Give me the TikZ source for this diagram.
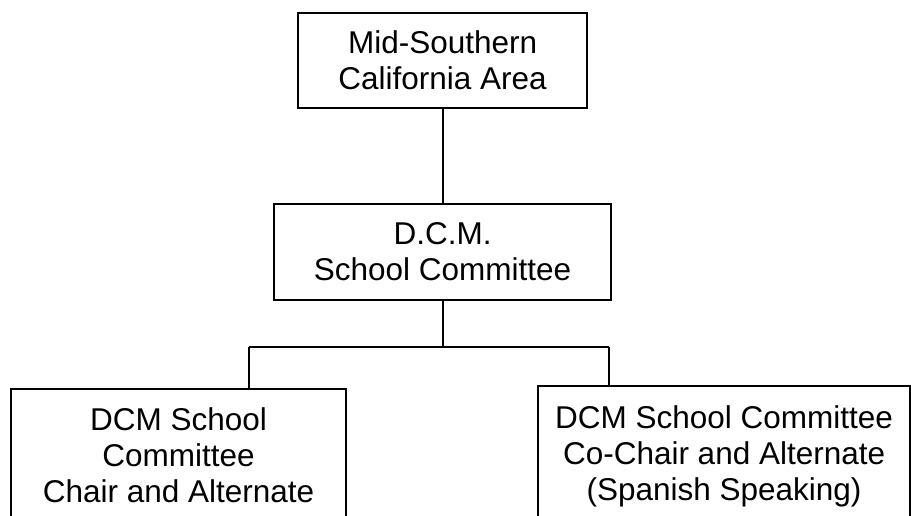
\documentclass[tikz,border=0pt]{standalone}
\usepackage{fontspec}
\setmainfont{Liberation Sans}
\begin{document}
\begin{tikzpicture}[x=1pt,y=1pt,
  box/.style={draw=black, line width=2.2pt, rectangle, align=center, inner sep=0pt,
    font=\fontsize{31.5}{36}\selectfont},
  link/.style={draw=black, line width=1.8pt}]
\path[use as bounding box] (0,0) rectangle (911,-515);
\clip (0,0) rectangle (911,-515);
\node[box, minimum width=289, minimum height=95, anchor=north west] (top) at (297,-12)
  {Mid-Southern\\California Area};
\node[box, minimum width=337, minimum height=96, anchor=north west] (mid) at (273,-203)
  {D.C.M.\\School Committee};
\node[box, minimum width=335, minimum height=133, anchor=north west] (l) at (10,-388)
  {DCM School\\Committee\\Chair and Alternate};
\node[box, minimum width=372, minimum height=141, anchor=north west] (r) at (537,-385)
  {DCM School Committee\\Co-Chair and Alternate\\(Spanish Speaking)};
\coordinate (j) at (441.5,-347);
\coordinate (jl) at (249,-347);
\coordinate (jr) at (609,-347);
\draw[link] (top.south) -- (top.south |- mid.north);
\draw[link] (mid.south) -- (mid.south |- j);
\draw[link] (jl) -- (jr);
\draw[link] (jl) -- (jl |- l.north);
\draw[link] (jr) -- (jr |- r.north);
\end{tikzpicture}
\end{document}
